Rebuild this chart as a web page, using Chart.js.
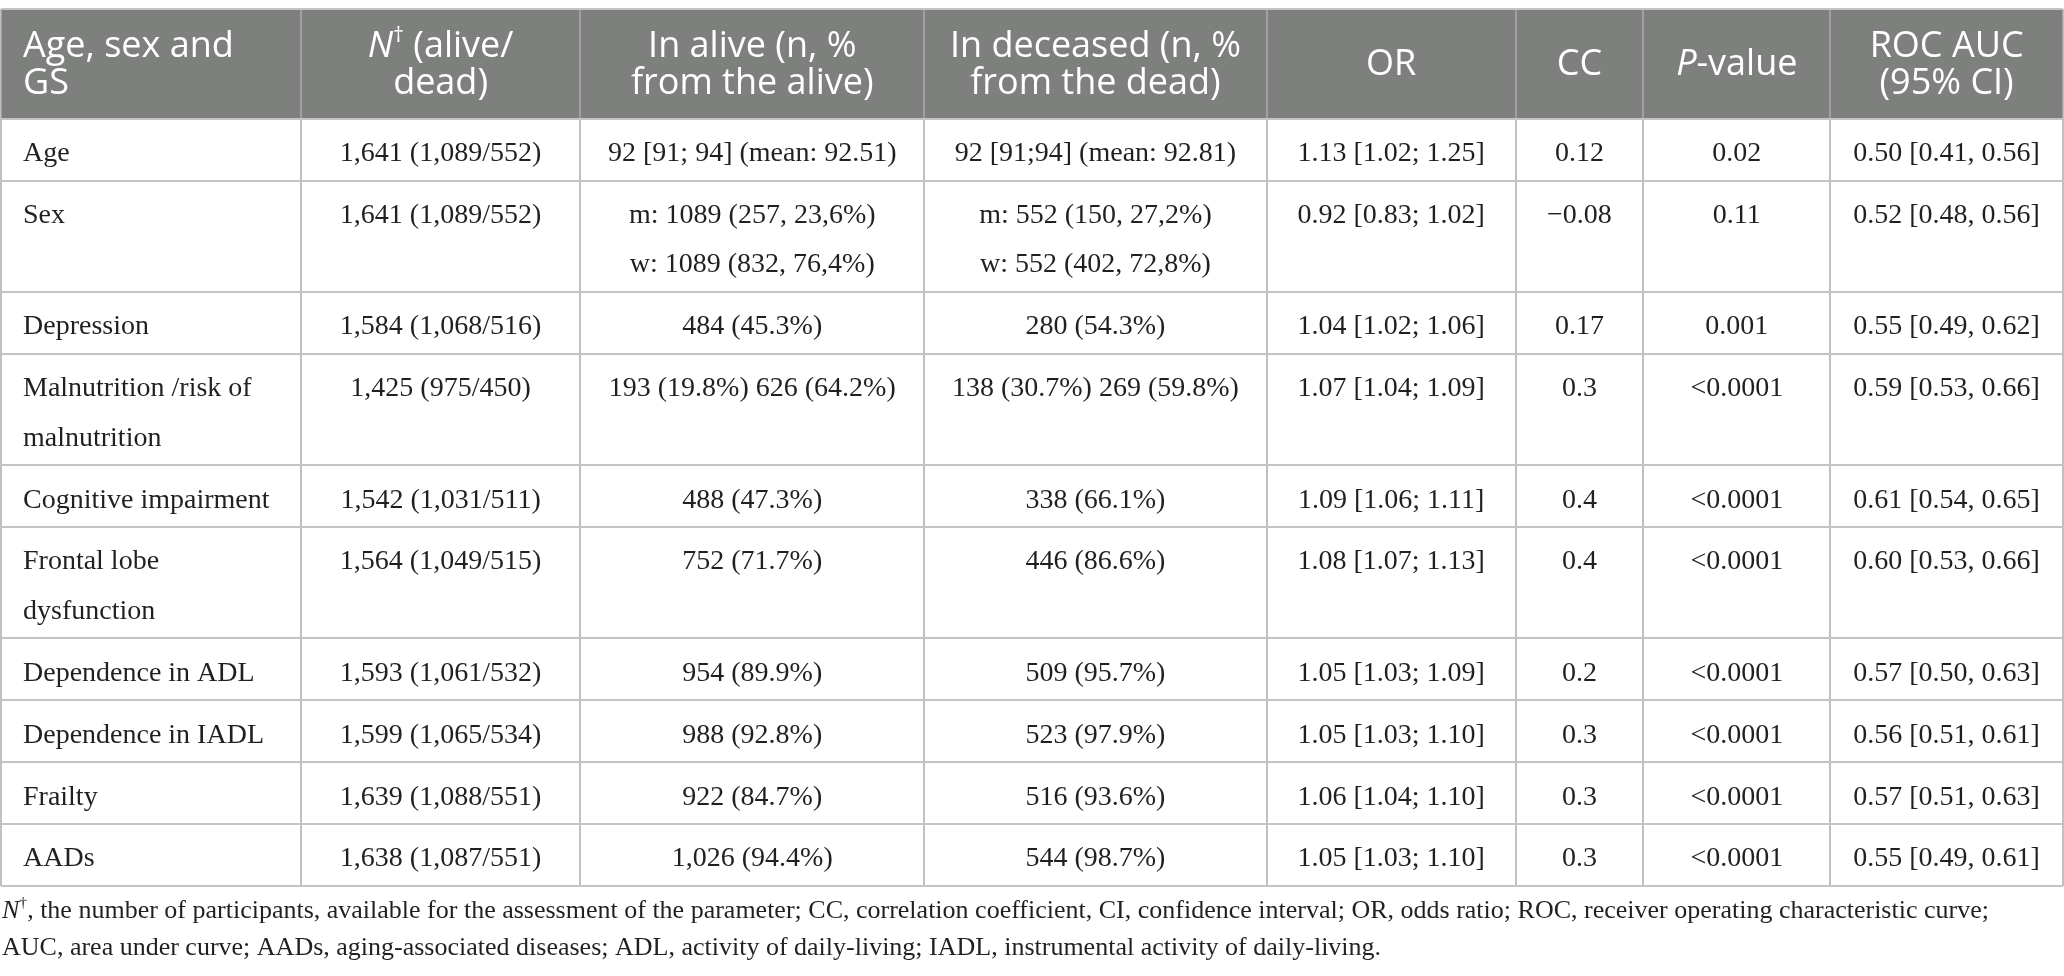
<!DOCTYPE html>
<html>
<head>
<meta charset="utf-8">
<title>Age, sex and GS table</title>
<script src="https://cdn.jsdelivr.net/npm/chart.js@4.4.1/dist/chart.umd.min.js"></script>
<style>
  html, body { margin: 0; padding: 0; background: #fff; }
  #wrap { width: 2064px; height: 976px; position: relative; }
</style>
</head>
<body>
<div id="wrap"><canvas id="gsTable"></canvas></div>
<script>
"use strict"

// _x_ = italic, ^x^ = superscript
const headers = [
  ['Age, sex and', 'GS'],
  ['_N_^\u2020^ (alive/', 'dead)'],
  ['In alive (n, %', 'from the alive)'],
  ['In deceased (n, %', 'from the dead)'],
  ['OR'],
  ['CC'],
  ['_P_-value'],
  ['ROC AUC', '(95% CI)']
];

const rowLabels = [
  'Age',
  'Sex',
  'Depression',
  ['Malnutrition /risk of', 'malnutrition'],
  'Cognitive impairment',
  ['Frontal lobe', 'dysfunction'],
  'Dependence in ADL',
  'Dependence in IADL',
  'Frailty',
  'AADs'
];

const nTotals = [
  '1,641 (1,089/552)', '1,641 (1,089/552)', '1,584 (1,068/516)', '1,425 (975/450)',
  '1,542 (1,031/511)', '1,564 (1,049/515)', '1,593 (1,061/532)', '1,599 (1,065/534)',
  '1,639 (1,088/551)', '1,638 (1,087/551)'
];

const inAlive = [
  '92 [91; 94] (mean: 92.51)',
  ['m: 1089 (257, 23,6%)', 'w: 1089 (832, 76,4%)'],
  '484 (45.3%)',
  '193 (19.8%) 626 (64.2%)',
  '488 (47.3%)',
  '752 (71.7%)',
  '954 (89.9%)',
  '988 (92.8%)',
  '922 (84.7%)',
  '1,026 (94.4%)'
];

const inDeceased = [
  '92 [91;94] (mean: 92.81)',
  ['m: 552 (150, 27,2%)', 'w: 552 (402, 72,8%)'],
  '280 (54.3%)',
  '138 (30.7%) 269 (59.8%)',
  '338 (66.1%)',
  '446 (86.6%)',
  '509 (95.7%)',
  '523 (97.9%)',
  '516 (93.6%)',
  '544 (98.7%)'
];

const oddsRatios = [
  '1.13 [1.02; 1.25]', '0.92 [0.83; 1.02]', '1.04 [1.02; 1.06]', '1.07 [1.04; 1.09]',
  '1.09 [1.06; 1.11]', '1.08 [1.07; 1.13]', '1.05 [1.03; 1.09]', '1.05 [1.03; 1.10]',
  '1.06 [1.04; 1.10]', '1.05 [1.03; 1.10]'
];

const corrCoefs = ['0.12', '\u22120.08', '0.17', '0.3', '0.4', '0.4', '0.2', '0.3', '0.3', '0.3'];

const pValues = ['0.02', '0.11', '0.001', '<0.0001', '<0.0001', '<0.0001', '<0.0001', '<0.0001', '<0.0001', '<0.0001'];

const rocAuc = [
  '0.50 [0.41, 0.56]', '0.52 [0.48, 0.56]', '0.55 [0.49, 0.62]', '0.59 [0.53, 0.66]',
  '0.61 [0.54, 0.65]', '0.60 [0.53, 0.66]', '0.57 [0.50, 0.63]', '0.56 [0.51, 0.61]',
  '0.57 [0.51, 0.63]', '0.55 [0.49, 0.61]'
];

const footnoteLines = [
  '_N_^\u2020^, the number of participants, available for the assessment of the parameter; CC, correlation coefficient, CI, confidence interval; OR, odds ratio; ROC, receiver operating characteristic curve;',
  'AUC, area under curve; AADs, aging-associated diseases; ADL, activity of daily-living; IADL, instrumental activity of daily-living.'
];

const columns = [rowLabels, nTotals, inAlive, inDeceased, oddsRatios, corrCoefs, pValues, rocAuc];

// layout (table units, one unit = one pixel)
const colEdges = [0, 300, 580, 924, 1267, 1516, 1644, 1831, 2064];
const headerHeight = 110;
const rowHeight = 62;
const extraLine = 49.5;
const cellPadLeft = 22;

const headFont = '"Open Sans", "Noto Sans", sans-serif';
const bodyFont = '"Liberation Serif", "DejaVu Serif", serif';

function linesOf(v) { return Array.isArray(v) ? v : [v]; }

let rowEdges = [0, headerHeight];
for (let r = 0; r < rowLabels.length; r++) {
  let n = Math.max(...columns.map(col => linesOf(col[r]).length));
  rowEdges.push(rowEdges[rowEdges.length - 1] + rowHeight + (n - 1) * extraLine);
}
const tableHeight = rowEdges[rowEdges.length - 1];

function anchorX(c) {
  return c == 0 ? colEdges[0] + cellPadLeft : (colEdges[c] + colEdges[c + 1]) / 2;
}

let headerCells = headers.map((h, c) => ({
  x: anchorX(c), y: headerHeight / 2, lines: h, align: c == 0 ? 'left' : 'center'
}));

let bodyCells = [];
columns.forEach((col, c) => {
  col.forEach((v, r) => {
    bodyCells.push({
      x: anchorX(c), y: rowEdges[r + 1] + rowHeight / 2, lines: linesOf(v), align: c == 0 ? 'left' : 'center'
    });
  });
});

function parseRich(s) {
  let parts = [];
  let re = /_([^_]+)_|\^([^^]+)\^|([^_^]+)/g;
  let m;
  while ((m = re.exec(s))) {
    if (m[1]) parts.push({ t: m[1], it: true });
    else if (m[2]) parts.push({ t: m[2], sup: true });
    else parts.push({ t: m[3] });
  }
  return parts;
}

function drawRich(ctx, s, x, y, align, family, size, color) {
  let parts = parseRich(s);
  let fontOf = p => (p.it ? 'italic ' : '') + (p.sup ? size * 0.6 : size) + 'px ' + family;
  let total = 0;
  parts.forEach(p => { ctx.font = fontOf(p); p.w = ctx.measureText(p.t).width; total += p.w; });
  let cx = align == 'center' ? x - total / 2 : x;
  ctx.fillStyle = color;
  ctx.textAlign = 'left';
  ctx.textBaseline = 'middle';
  parts.forEach(p => {
    ctx.font = fontOf(p);
    ctx.fillText(p.t, cx, p.sup ? y - size * 0.3 : y);
    cx += p.w;
  });
}

const tablePlugin = {
  id: 'tablePlugin',
  beforeDraw(chart) {
    let ctx = chart.ctx;
    let xs = chart.scales.x, ys = chart.scales.y;
    ctx.save();
    ctx.fillStyle = '#ffffff';
    ctx.fillRect(0, 0, chart.width, chart.height);
    let x0 = xs.getPixelForValue(colEdges[0]);
    let x1 = xs.getPixelForValue(colEdges[colEdges.length - 1]);
    let y0 = ys.getPixelForValue(rowEdges[0]);
    let y1 = ys.getPixelForValue(rowEdges[1]);
    ctx.fillStyle = '#7e807e';
    ctx.fillRect(x0, y0, x1 - x0, y1 - y0);
    ctx.restore();
  },
  afterDatasetsDraw(chart) {
    let ctx = chart.ctx;
    let ys = chart.scales.y;
    let step = Math.abs(ys.getPixelForValue(extraLine) - ys.getPixelForValue(0));
    ctx.save();
    chart.data.datasets.forEach((ds, i) => {
      let meta = chart.getDatasetMeta(i);
      meta.data.forEach((pt, j) => {
        let cell = ds.data[j];
        if (ds.label == 'header') {
          let sp = 37;
          let top = pt.y - (cell.lines.length - 1) * sp / 2 + 1;
          cell.lines.forEach((ln, k) => drawRich(ctx, ln, pt.x, top + k * sp, cell.align, headFont, 36, '#ffffff'));
        } else {
          cell.lines.forEach((ln, k) => drawRich(ctx, ln, pt.x, pt.y + 4 + k * step, cell.align, bodyFont, 28, '#231f20'));
        }
      });
    });
    // footnote under the table
    let base = chart.chartArea.bottom;
    footnoteLines.forEach((ln, k) => drawRich(ctx, ln, 2, base + 25 + k * 37, 'left', bodyFont, 26, '#231f20'));
    ctx.restore();
  }
};

function makeChart() {
  let ctx = document.getElementById('gsTable').getContext('2d');
  new Chart(ctx, {
    type: 'scatter',
    data: {
      datasets: [
        { label: 'header', data: headerCells, pointRadius: 0, pointHoverRadius: 0 },
        { label: 'body', data: bodyCells, pointRadius: 0, pointHoverRadius: 0 }
      ]
    },
    options: {
      responsive: true,
      maintainAspectRatio: false,
      animation: false,
      events: [],
      layout: { padding: { top: 9, bottom: 90, left: 1, right: 1 } },
      plugins: {
        legend: { display: false },
        tooltip: { enabled: false }
      },
      scales: {
        x: {
          type: 'linear',
          min: colEdges[0],
          max: colEdges[colEdges.length - 1],
          ticks: { display: false },
          border: { display: false },
          grid: { color: 'rgba(171,171,171,0.75)', lineWidth: 2, drawTicks: false },
          afterBuildTicks: s => { s.ticks = colEdges.map(v => ({ value: v })); }
        },
        y: {
          type: 'linear',
          reverse: true,
          min: 0,
          max: tableHeight,
          ticks: { display: false },
          border: { display: false },
          grid: { color: '#c4c4c4', lineWidth: 2, drawTicks: false },
          afterBuildTicks: s => { s.ticks = rowEdges.map(v => ({ value: v })); }
        }
      }
    },
    plugins: [tablePlugin]
  });
}

Promise.all([
  document.fonts.load('36px "Open Sans"'),
  document.fonts.load('italic 36px "Open Sans"'),
  document.fonts.load('28px "Liberation Serif"'),
  document.fonts.load('italic 28px "Liberation Serif"')
]).then(makeChart, makeChart);
</script>
</body>
</html>
